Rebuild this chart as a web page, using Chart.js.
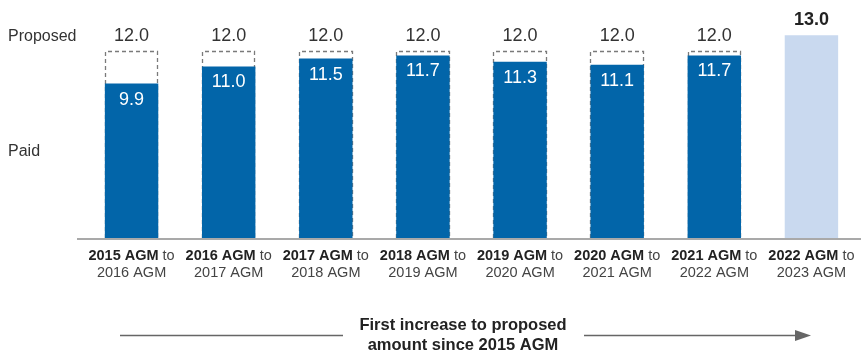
<!DOCTYPE html>
<html>
<head>
<meta charset="utf-8">
<script src="https://cdn.jsdelivr.net/npm/chart.js@4.4.1/dist/chart.umd.min.js"></script>
<style>
html,body{margin:0;padding:0;background:#fff;}
#wrap{width:861px;height:352px;position:relative;}
</style>
</head>
<body>
<div id="wrap"><canvas id="c" width="861" height="352"></canvas></div>
<script>
const periodStart = ['2015 AGM','2016 AGM','2017 AGM','2018 AGM','2019 AGM','2020 AGM','2021 AGM','2022 AGM'];
const periodEnd = ['2016 AGM','2017 AGM','2018 AGM','2019 AGM','2020 AGM','2021 AGM','2022 AGM','2023 AGM'];
const paid = [9.9, 11.0, 11.5, 11.7, 11.3, 11.1, 11.7, 13.0];
const proposed = [12.0, 12.0, 12.0, 12.0, 12.0, 12.0, 12.0, null];
const rowLabels = ['Proposed', 'Paid'];
const footerLines = ['First increase to proposed', 'amount since 2015 AGM'];

const BLUE = '#0265A9';
const LIGHT = '#C9D9EF';
const FONT = '"Liberation Sans", Arial, Helvetica, sans-serif';

const labels = periodStart.map((s, i) => s + ' to ' + periodEnd[i]);

const drawPlugin = {
  id: 'custom',
  beforeDatasetsDraw(chart) {
    const ctx = chart.ctx;
    const metaP = chart.getDatasetMeta(0);
    ctx.save();
    ctx.strokeStyle = '#7a7a7a';
    ctx.lineWidth = 1.3;
    ctx.setLineDash([4, 3]);
    metaP.data.forEach((el, i) => {
      if (proposed[i] == null) return;
      const p = el.getProps(['x','y','base','width'], true);
      const l = Math.round(p.x - p.width/2) + 0.5;
      const r = Math.round(p.x + p.width/2) - 0.5;
      const t = Math.round(p.y) + 0.5;
      ctx.beginPath();
      ctx.moveTo(l, p.base);
      ctx.lineTo(l, t);
      ctx.lineTo(r, t);
      ctx.lineTo(r, p.base);
      ctx.stroke();
    });
    ctx.restore();
  },
  afterDatasetsDraw(chart) {
    const ctx = chart.ctx;
    const metaP = chart.getDatasetMeta(0);
    const metaA = chart.getDatasetMeta(1);
    ctx.save();
    // axis line
    ctx.strokeStyle = '#555';
    ctx.lineWidth = 1.2;
    const base = chart.scales.y.getPixelForValue(0);
    ctx.beginPath();
    ctx.moveTo(77, base + 1);
    ctx.lineTo(861, base + 1);
    ctx.stroke();

    ctx.textAlign = 'center';
    ctx.textBaseline = 'middle';
    // proposed labels
    metaP.data.forEach((el, i) => {
      if (proposed[i] == null) return;
      ctx.fillStyle = '#333';
      ctx.font = '18px ' + FONT;
      ctx.fillText(proposed[i].toFixed(1), el.x, el.y - 15);
    });
    // paid labels
    metaA.data.forEach((el, i) => {
      if (proposed[i] == null) {
        ctx.fillStyle = '#222';
        ctx.font = 'bold 18px ' + FONT;
        ctx.fillText(paid[i].toFixed(1), el.x, el.y - 15);
      } else {
        ctx.fillStyle = '#fff';
        ctx.font = '18px ' + FONT;
        ctx.fillText(paid[i].toFixed(1), el.x, el.y + 16);
      }
    });
    // x labels
    metaA.data.forEach((el, i) => {
      const cx = chart.scales.x.getPixelForValue(i);
      ctx.font = 'bold 14.5px ' + FONT;
      const w1 = ctx.measureText(periodStart[i]).width;
      ctx.font = '14.5px ' + FONT;
      const w2 = ctx.measureText(' to').width;
      const sx = cx - (w1 + w2) / 2;
      ctx.textAlign = 'left';
      ctx.fillStyle = '#222';
      ctx.font = 'bold 14.5px ' + FONT;
      ctx.fillText(periodStart[i], sx, 256);
      ctx.fillStyle = '#444';
      ctx.font = '14.5px ' + FONT;
      ctx.fillText(' to', sx + w1, 256);
      ctx.textAlign = 'center';
      ctx.fillText(periodEnd[i], cx, 273);
    });
    // row labels
    ctx.textAlign = 'left';
    ctx.fillStyle = '#333';
    ctx.font = '16px ' + FONT;
    ctx.fillText(rowLabels[0], 8, 37);
    ctx.fillText(rowLabels[1], 8, 152);

    // footer
    ctx.textAlign = 'center';
    ctx.fillStyle = '#222';
    ctx.font = 'bold 16.5px ' + FONT;
    ctx.fillText(footerLines[0], 463, 325);
    ctx.fillText(footerLines[1], 463, 345);
    ctx.strokeStyle = '#666';
    ctx.lineWidth = 1.3;
    ctx.beginPath();
    ctx.moveTo(120, 335.5); ctx.lineTo(343, 335.5);
    ctx.moveTo(584, 335.5); ctx.lineTo(797, 335.5);
    ctx.stroke();
    ctx.fillStyle = '#666';
    ctx.beginPath();
    ctx.moveTo(795, 330);
    ctx.lineTo(811, 335.5);
    ctx.lineTo(795, 341);
    ctx.closePath();
    ctx.fill();
    ctx.restore();
  }
};

new Chart(document.getElementById('c'), {
  type: 'bar',
  data: {
    labels: labels,
    datasets: [
      {
        label: 'Proposed',
        data: proposed,
        backgroundColor: 'rgba(0,0,0,0)',
        borderWidth: 0,
        barPercentage: 0.55,
        categoryPercentage: 1.0
      },
      {
        label: 'Paid',
        data: paid,
        backgroundColor: paid.map((v, i) => proposed[i] == null ? LIGHT : BLUE),
        borderWidth: 0,
        barPercentage: 0.55,
        categoryPercentage: 1.0
      }
    ]
  },
  options: {
    responsive: false,
    animation: false,
    layout: { padding: { left: 83, right: 1, top: 4, bottom: 114 } },
    plugins: { legend: { display: false }, tooltip: { enabled: false } },
    scales: {
      x: { display: false, stacked: true, grid: { display: false } },
      y: { display: false, stacked: false, min: 0, max: 15, grid: { display: false } }
    }
  },
  plugins: [drawPlugin]
});
</script>
</body>
</html>
